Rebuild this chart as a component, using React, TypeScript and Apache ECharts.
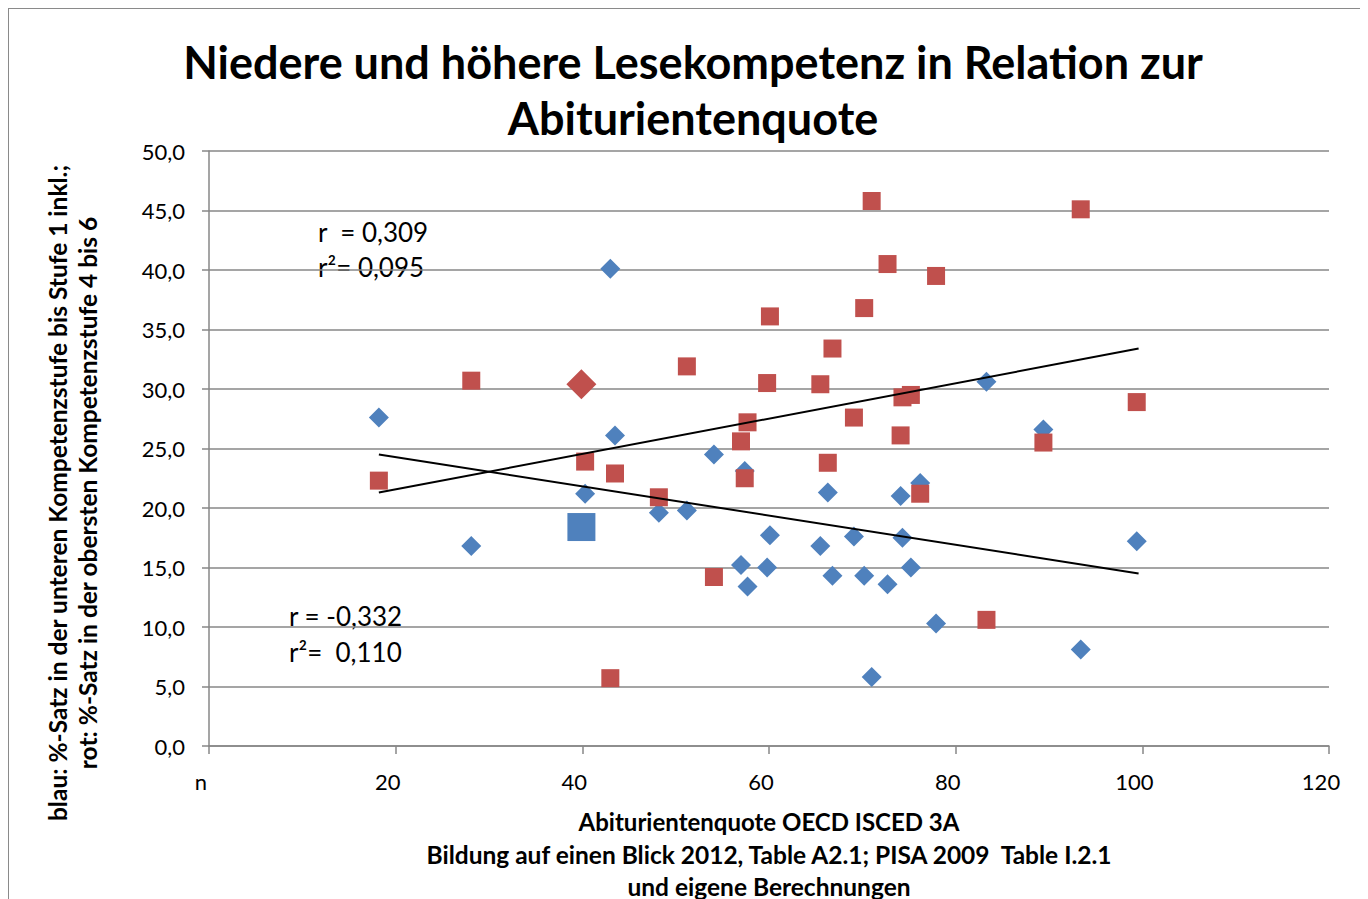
import React, { useEffect, useRef } from "react";
import * as echarts from "echarts";

// Abiturientenquote (x) per country
const quota = [18.2, 28.1, 40.3, 43.0, 43.5, 48.2, 51.2, 54.1, 57.0, 57.4, 57.7, 59.8, 60.1, 65.5, 66.3, 66.8, 69.1, 70.2, 71.0, 72.7, 74.1, 74.3, 75.2, 76.2, 77.9, 83.3, 89.4, 93.4, 99.4];
// blau: % in unterer Kompetenzstufe
const lowShare = [27.6, 16.8, 21.2, 40.1, 26.1, 19.6, 19.8, 24.5, 15.2, 23.1, 13.4, 15.0, 17.7, 16.8, 21.3, 14.3, 17.6, 14.3, 5.8, 13.6, 21.0, 17.5, 15.0, 22.1, 10.3, 30.6, 26.6, 8.1, 17.2];
// rot: % in oberster Kompetenzstufe
const highShare = [22.3, 30.7, 23.9, 5.7, 22.9, 20.9, 31.9, 14.2, 25.6, 22.5, 27.2, 30.5, 36.1, 30.4, 23.8, 33.4, 27.6, 36.8, 45.8, 40.5, 26.1, 29.3, 29.5, 21.2, 39.5, 10.6, 25.5, 45.1, 28.9];
// Deutschland (hervorgehoben)
const germany = { x: 39.9, low: 18.4, high: 30.4 };
// Trendlinien (Endpunkte)
const trendHigh = [[18.2, 21.3], [99.6, 33.4]];
const trendLow = [[18.2, 24.5], [99.6, 14.5]];

const FONT = "Lato";

export default function App() {
  const ref = useRef<HTMLDivElement>(null);
  useEffect(() => {
    if (!ref.current) return;
    const chart = echarts.init(ref.current, undefined, { renderer: "svg" });
    const gray = "#878787";
    chart.setOption({
      animation: false,
      backgroundColor: "#fff",
      grid: { left: 200, top: 142, width: 1120, height: 595, containLabel: false },
      xAxis: {
        type: "value", min: 0, max: 120, interval: 20,
        axisLine: { show: true, lineStyle: { color: gray, width: 1.5 } },
        axisTick: { show: true, length: 8, lineStyle: { color: gray, width: 1.5 } },
        splitLine: { show: false },
        axisLabel: { margin: 24, padding: [0, 16, 0, 0], fontFamily: FONT, fontSize: 22, color: "#000", formatter: (v: number) => (v === 0 ? "n" : String(v)) },
      },
      yAxis: {
        type: "value", min: 0, max: 50, interval: 5,
        axisLine: { show: true, lineStyle: { color: gray, width: 1.5 } },
        axisTick: { show: true, length: 7, lineStyle: { color: gray, width: 1.5 } },
        splitLine: { show: true, lineStyle: { color: gray, width: 1.5 } },
        axisLabel: { margin: 24, fontFamily: FONT, fontSize: 22, color: "#000", formatter: (v: number) => v.toFixed(1).replace(".", ",") },
      },
      series: [
        { type: "scatter", symbol: "diamond", symbolSize: 20, itemStyle: { color: "#4F81BD", opacity: 1 }, data: quota.map((x, i) => [x, lowShare[i]]), z: 2 },
        { type: "scatter", symbol: "rect", symbolSize: 18, itemStyle: { color: "#C0504D", opacity: 1 }, data: quota.map((x, i) => [x, highShare[i]]), z: 3 },
        { type: "scatter", symbol: "rect", symbolSize: 28, itemStyle: { color: "#4F81BD", opacity: 1 }, data: [[germany.x, germany.low]], z: 4 },
        { type: "scatter", symbol: "diamond", symbolSize: 30, itemStyle: { color: "#C0504D", opacity: 1 }, data: [[germany.x, germany.high]], z: 4 },
        { type: "line", showSymbol: false, symbol: "none", lineStyle: { color: "#000", width: 2 }, data: trendHigh, z: 5 },
        { type: "line", showSymbol: false, symbol: "none", lineStyle: { color: "#000", width: 2 }, data: trendLow, z: 5 },
      ],
      graphic: [
        { type: "text", x: 684, y: 53, style: { text: "Niedere und höhere Lesekompetenz in Relation zur", font: `bold 45px ${FONT}`, fill: "#000", textAlign: "center", textVerticalAlign: "middle" } },
        { type: "text", x: 684, y: 109, style: { text: "Abiturientenquote", font: `bold 45px ${FONT}`, fill: "#000", textAlign: "center", textVerticalAlign: "middle" } },
        { type: "text", x: 760, y: 812, style: { text: "Abiturientenquote OECD ISCED 3A", font: `bold 24px ${FONT}`, fill: "#000", textAlign: "center", textVerticalAlign: "middle" } },
        { type: "text", x: 760, y: 845, style: { text: "Bildung auf einen Blick 2012, Table A2.1; PISA 2009  Table I.2.1", font: `bold 24.5px ${FONT}`, fill: "#000", textAlign: "center", textVerticalAlign: "middle" } },
        { type: "text", x: 760, y: 877, style: { text: "und eigene Berechnungen", font: `bold 24.5px ${FONT}`, fill: "#000", textAlign: "center", textVerticalAlign: "middle" } },
        { type: "text", x: 48, y: 484, rotation: Math.PI / 2, style: { text: "blau: %-Satz in der unteren Kompetenzstufe bis Stufe 1 inkl.;", font: `bold 24.5px ${FONT}`, fill: "#000", textAlign: "center", textVerticalAlign: "middle" } },
        { type: "text", x: 78, y: 484, rotation: Math.PI / 2, style: { text: "rot: %-Satz in der obersten Kompetenzstufe 4 bis 6", font: `bold 24.5px ${FONT}`, fill: "#000", textAlign: "center", textVerticalAlign: "middle" } },
        { type: "text", x: 309, y: 223, style: { text: "r  = 0,309", font: `26px ${FONT}`, fill: "#000", textVerticalAlign: "middle" } },
        { type: "text", x: 309, y: 258, style: { text: "r²= 0,095", font: `26px ${FONT}`, fill: "#000", textVerticalAlign: "middle" } },
        { type: "text", x: 280, y: 607, style: { text: "r = -0,332", font: `26px ${FONT}`, fill: "#000", textVerticalAlign: "middle" } },
        { type: "text", x: 280, y: 643, style: { text: "r²=  0,110", font: `26px ${FONT}`, fill: "#000", textVerticalAlign: "middle" } },
      ],
    });
    return () => chart.dispose();
  }, []);
  return (
    <div style={{ width: 1360, height: 891, borderTop: "1px solid #8a8a8a", borderLeft: "1px solid #8a8a8a", boxSizing: "border-box", overflow: "hidden" }}>
      <div ref={ref} style={{ width: 1359, height: 890 }} />
    </div>
  );
}
